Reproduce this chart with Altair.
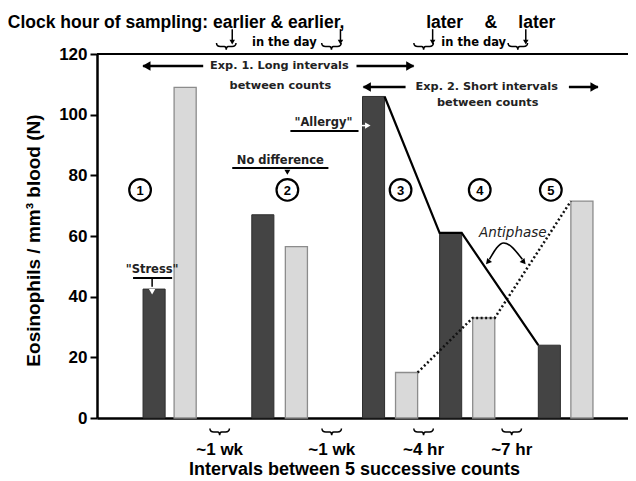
import altair as alt
import pandas as pd

# ---- values ----
dark_values = [42.5, 67, 106, 61, 24]      # dark bars (counts 1-5, first of pair)
light_values = [109, 56.5, 15, 33, 71.5]   # light bars
count_labels = ["1", "2", "3", "4", "5"]
interval_labels = ["~1 wk", "~1 wk", "~4 hr", "~7 hr"]

# ---- layout (x in arbitrary slot units 0-100) ----
dark_pos = [10.75, 31.23, 52.08, 66.6, 85.19]
light_pos = [16.6, 37.55, 58.3, 72.83, 91.32]
half = 2.08
circle_pos = [8.11, 35.85, 57.17, 72.08, 85.47]
circle_y = 75.2
interval_pos = [23.1, 44.2, 61.5, 78.1]

BRACE = "M -1 -0.35 Q -1 0 -0.6 0 L -0.2 0 Q 0 0 0 0.35 Q 0 0 0.2 0 L 0.6 0 Q 1 0 1 -0.35"

XS = alt.Scale(domain=[0, 100], nice=False, zero=False)
YS = alt.Scale(domain=[0, 120], nice=False, zero=False)

x_axis = alt.Axis(labels=False, ticks=False, grid=False, domainWidth=2.5, domainColor="black",
                  title="Intervals between 5 successive counts", titleX=257, titleY=51,
                  titleAnchor="start", titleAlign="center", titleBaseline="middle",
                  titleFont="Liberation Sans", titleFontSize=18, titleFontWeight="bold", titleColor="black")
y_axis = alt.Axis(values=[0, 20, 40, 60, 80, 100, 120], grid=False, domainWidth=2.5, domainColor="black",
                  tickColor="black", tickWidth=2, tickSize=7, labelPadding=3,
                  labelFont="Liberation Sans", labelFontSize=17, labelFontWeight="bold", labelColor="black",
                  title="Eosinophils / mm³ blood (N)", titleX=-64, titleY=186, titleAngle=270,
                  titleAlign="center", titleBaseline="middle",
                  titleFont="Liberation Sans", titleFontSize=19, titleFontWeight="bold", titleColor="black")


def X(f="x"):
    return alt.X(f"{f}:Q", scale=XS, axis=x_axis)


def Y(f="y"):
    return alt.Y(f"{f}:Q", scale=YS, axis=y_axis)


dark_df = pd.DataFrame({"x0": [p - half for p in dark_pos], "x1": [p + half for p in dark_pos], "v": dark_values})
light_df = pd.DataFrame({"x0": [p - half for p in light_pos], "x1": [p + half for p in light_pos], "v": light_values})

dark_bars = alt.Chart(dark_df).mark_bar(fill="#444444", stroke="#2e2e2e", strokeWidth=1).encode(
    x=X("x0"), x2="x1:Q", y=Y("v"), y2=alt.datum(0))
light_bars = alt.Chart(light_df).mark_bar(fill="#d9d9d9", stroke="#8c8c8c", strokeWidth=1.3).encode(
    x=X("x0"), x2="x1:Q", y=Y("v"), y2=alt.datum(0))

# solid line over dark bars of counts 3-5
solid_df = pd.DataFrame({
    "x": [dark_pos[2] + half, dark_pos[3] - half, dark_pos[3] + half, dark_pos[4] - half],
    "y": [dark_values[2], dark_values[3], dark_values[3], dark_values[4]],
    "o": [0, 1, 2, 3]})
solid_line = alt.Chart(solid_df).mark_line(color="black", strokeWidth=2.2).encode(
    x=X(), y=Y(), order="o:Q")
dot_df = pd.DataFrame({
    "x": [light_pos[2] + half, light_pos[3] - half, light_pos[3] + half, light_pos[4] - half],
    "y": [light_values[2], light_values[3], light_values[3], light_values[4]],
    "o": [0, 1, 2, 3]})
dot_line = alt.Chart(dot_df).mark_line(color="#111111", strokeWidth=2.5, strokeDash=[2, 2.5]).encode(
    x=X(), y=Y(), order="o:Q")

# circled count numbers
circ_df = pd.DataFrame({"x": circle_pos, "y": [circle_y] * 5, "t": count_labels})
circles = alt.Chart(circ_df).mark_point(shape="circle", filled=False, stroke="black", strokeWidth=2.2,
                                        size=470, opacity=1).encode(x=X(), y=Y())
circ_txt = alt.Chart(circ_df).mark_text(font="Liberation Sans", fontWeight="bold", fontSize=13,
                                        baseline="middle", dy=1).encode(x=X(), y=Y(), text="t:N")

# top border
top_rule = alt.Chart(pd.DataFrame({"a": [0]})).mark_rule(color="black", strokeWidth=2).encode(
    x=alt.datum(0, scale=XS), x2=alt.datum(104), y=alt.datum(120, scale=YS))

# ---- header text ----
head_df = pd.DataFrame({
    "x": [-16.79, 65.47, 74.15, 82.83],
    "y": [130.2] * 4,
    "t": ["Clock hour of sampling: earlier & earlier,", "later", "&", "later"]})
head_left = alt.Chart(head_df.iloc[:1]).mark_text(font="Liberation Sans", fontWeight="bold", fontSize=17.5,
                                                  align="left", baseline="middle").encode(x=X(), y=Y(), text="t:N")
head_right = alt.Chart(head_df.iloc[1:]).mark_text(font="Liberation Sans", fontWeight="bold", fontSize=17.5,
                                                   align="center", baseline="middle").encode(x=X(), y=Y(), text="t:N")
day_df = pd.DataFrame({"x": [35.28, 70.94], "y": [123.6, 123.6], "t": ["in the day", "in the day"]})
day_txt = alt.Chart(day_df).mark_text(font="DejaVu Sans", fontWeight="bold", fontSize=11.5,
                                      baseline="middle").encode(x=X(), y=Y(), text="t:N")
brace_df = pd.DataFrame({"x": [24.34, 44.15, 61.51, 79.25], "y": [122.5] * 4})
braces_top = alt.Chart(brace_df).mark_point(shape=BRACE, filled=False, color="black", strokeWidth=1.5,
                                            size=380, opacity=1).encode(x=X(), y=Y())
arrow_x = [25.47, 45.85, 63.21, 80.75]
stem_df = pd.DataFrame({"x": arrow_x, "y": [128.2] * 4, "y2": [124.4] * 4})
stems = alt.Chart(stem_df).mark_rule(color="black", strokeWidth=1.5).encode(x=X(), y=Y(), y2="y2:Q")
head_pts = alt.Chart(pd.DataFrame({"x": arrow_x, "y": [123.9] * 4})).mark_point(
    shape="triangle-down", filled=True, color="black", size=30, opacity=1).encode(x=X(), y=Y())

# ---- experiment arrows ----
exp_rules_df = pd.DataFrame({
    "x": [8.68, 48.87, 50.19, 88.87],
    "x2": [20.0, 59.62, 58.11, 94.34],
    "y": [116.05, 116.05, 109.12, 109.12]})
exp_rules = alt.Chart(exp_rules_df).mark_rule(color="black", strokeWidth=2.5).encode(
    x=X(), x2="x2:Q", y=Y())
exp_left = alt.Chart(pd.DataFrame({"x": [9.3, 50.8], "y": [116.05, 109.12]})).mark_point(
    shape="triangle-left", filled=True, color="black", size=90, opacity=1).encode(x=X(), y=Y())
exp_right = alt.Chart(pd.DataFrame({"x": [59.0, 93.7], "y": [116.05, 109.12]})).mark_point(
    shape="triangle-right", filled=True, color="black", size=90, opacity=1).encode(x=X(), y=Y())
exp_txt_df = pd.DataFrame({
    "x": [34.34, 34.53, 73.40, 73.58],
    "y": [116.05, 109.45, 109.12, 103.85],
    "t": ["Exp. 1. Long intervals", "between counts", "Exp. 2. Short intervals", "between counts"]})
exp_txt = alt.Chart(exp_txt_df).mark_text(font="DejaVu Sans", fontWeight="bold", fontSize=11.3,
                                          color="#222222", baseline="middle").encode(x=X(), y=Y(), text="t:N")

# ---- callouts ----
call_df = pd.DataFrame({
    "x": [10.38, 34.53, 42.64],
    "y": [48.79, 84.73, 97.25],
    "t": ['"Stress"', "No difference", '"Allergy"']})
call_txt = alt.Chart(call_df).mark_text(font="DejaVu Sans", fontWeight="bold", fontSize=11.5,
                                        color="#222222", baseline="middle").encode(x=X(), y=Y(), text="t:N")
under_df = pd.DataFrame({"x": [6.79, 25.47, 36.42], "x2": [14.15, 43.58, 49.25], "y": [46.15, 82.42, 94.62]})
underlines = alt.Chart(under_df).mark_rule(color="black", strokeWidth=1.8).encode(x=X(), x2="x2:Q", y=Y())
stress_stem = alt.Chart(pd.DataFrame({"x": [10.38], "y": [46.15], "y2": [43.3]})).mark_rule(
    color="black", strokeWidth=1.5).encode(x=X(), y=Y(), y2="y2:Q")
stress_head = alt.Chart(pd.DataFrame({"x": [10.38], "y": [41.6]})).mark_point(
    shape="triangle-down", filled=True, color="white", size=40, opacity=1).encode(x=X(), y=Y())
nodiff_head = alt.Chart(pd.DataFrame({"x": [35.85], "y": [81.0]})).mark_point(
    shape="triangle-down", filled=True, color="black", size=35, opacity=1).encode(x=X(), y=Y())
allergy_stem = alt.Chart(pd.DataFrame({"x": [48.87], "x2": [50.6], "y": [96.4]})).mark_rule(
    color="white", strokeWidth=1.5).encode(x=X(), x2="x2:Q", y=Y())
allergy_head = alt.Chart(pd.DataFrame({"x": [51.0], "y": [96.4]})).mark_point(
    shape="triangle-right", filled=True, color="white", size=40, opacity=1).encode(x=X(), y=Y())

# antiphase
anti_txt = alt.Chart(pd.DataFrame({"x": [78.3], "y": [61.0], "t": ["Antiphase"]})).mark_text(
    font="DejaVu Sans", fontStyle="italic", fontSize=13.5, color="#222222", baseline="middle").encode(
    x=X(), y=Y(), text="t:N")
anti_df = pd.DataFrame({"x": [73.9, 76.6, 80.1], "y": [52.3, 57.7, 52.3], "o": [0, 1, 2]})
anti_line = alt.Chart(anti_df).mark_line(color="black", strokeWidth=1.6, interpolate="monotone").encode(
    x=X(), y=Y(), order="o:Q")
anti_heads = alt.Chart(pd.DataFrame({"x": [73.6, 80.38], "y": [51.4, 51.4], "a": [220, 140]})).mark_point(
    shape="triangle-up", filled=True, color="black", size=40, opacity=1).encode(
    x=X(), y=Y(), angle=alt.Angle("a:Q", scale=None))

# interval labels below axis
int_df = pd.DataFrame({"x": interval_pos, "yb": [-4.6] * 4, "y": [-10.5] * 4, "t": interval_labels})
int_txt = alt.Chart(int_df).mark_text(font="Liberation Sans", fontWeight="bold", fontSize=17,
                                      baseline="middle").encode(x=X(), y=Y(), text="t:N")
int_brace = alt.Chart(int_df).mark_point(shape=BRACE, filled=False, color="black", strokeWidth=1.5,
                                         size=380, opacity=1).encode(x=X(), y=Y("yb"))

chart = alt.layer(
    light_bars, dark_bars, dot_line, solid_line, top_rule,
    circles, circ_txt,
    head_left, head_right, day_txt, braces_top, stems, head_pts,
    exp_rules, exp_left, exp_right, exp_txt,
    call_txt, underlines, stress_stem, stress_head, nodiff_head, allergy_stem, allergy_head,
    anti_txt, anti_line, anti_heads,
    int_txt, int_brace,
).properties(
    width=531, height=364,
    autosize=alt.AutoSizeParams(type="none"),
    padding={"left": 89, "top": 46, "right": 0, "bottom": 60},
).configure_view(stroke=None)

chart.save("out.html", embed_options={"renderer": "svg", "actions": False})
